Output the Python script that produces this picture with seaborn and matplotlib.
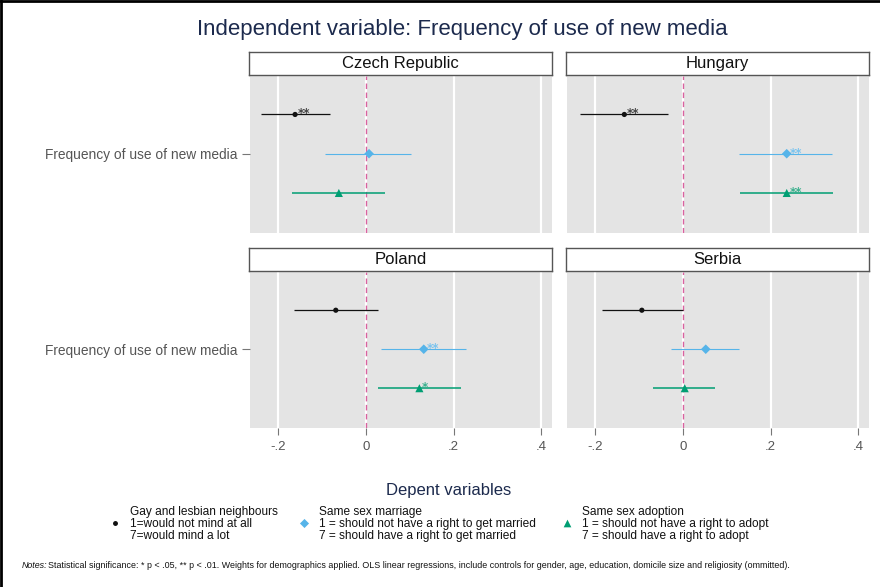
import numpy as np
import pandas as pd
import matplotlib
matplotlib.use("Agg")
import matplotlib.pyplot as plt
import seaborn as sns

sns.set_theme(style="white")
plt.rcParams["font.family"] = ["Liberation Sans", "DejaVu Sans"]

# ---- data -------------------------------------------------------------
countries = ["Czech Republic", "Hungary", "Poland", "Serbia"]
outcomes = ["Gay and lesbian neighbours", "Same sex marriage", "Same sex adoption"]

coef_czech = [-0.162, 0.007, -0.062]
lo_czech = [-0.240, -0.093, -0.168]
hi_czech = [-0.082, 0.103, 0.044]
sig_czech = ["**", "", ""]

coef_hungary = [-0.134, 0.237, 0.237]
lo_hungary = [-0.235, 0.129, 0.131]
hi_hungary = [-0.034, 0.340, 0.342]
sig_hungary = ["**", "**", "**"]

coef_poland = [-0.069, 0.132, 0.122]
lo_poland = [-0.164, 0.034, 0.027]
hi_poland = [0.028, 0.229, 0.217]
sig_poland = ["", "**", "*"]

coef_serbia = [-0.094, 0.052, 0.004]
lo_serbia = [-0.186, -0.027, -0.068]
hi_serbia = [0.000, 0.128, 0.074]
sig_serbia = ["", "", ""]

xticks = [-0.2, 0.0, 0.2, 0.4]
xticklabels = ["-.2", "0", ".2", ".4"]
ylabel = "Frequency of use of new media"

rows = []
for country, c, lo, hi, sg in zip(
    countries,
    [coef_czech, coef_hungary, coef_poland, coef_serbia],
    [lo_czech, lo_hungary, lo_poland, lo_serbia],
    [hi_czech, hi_hungary, hi_poland, hi_serbia],
    [sig_czech, sig_hungary, sig_poland, sig_serbia],
):
    for k, name in enumerate(outcomes):
        rows.append(dict(country=country, outcome=name, offset=k - 1,
                         coef=c[k], lo=lo[k], hi=hi[k], sig=sg[k]))
df = pd.DataFrame(rows)

palette = {outcomes[0]: "#111111", outcomes[1]: "#56b4e9", outcomes[2]: "#009e73"}
markers = {outcomes[0]: "o", outcomes[1]: "D", outcomes[2]: "^"}
sizes = {outcomes[0]: 14, outcomes[1]: 24, outcomes[2]: 34}
ci_lw = {outcomes[0]: 0.9, outcomes[1]: 0.8, outcomes[2]: 1.1}
star_col = {outcomes[0]: "#444444", outcomes[1]: "#7cc4ee", outcomes[2]: "#3cb08e"}

# ---- figure -----------------------------------------------------------
W, H = 880, 587
fig = plt.figure(figsize=(W / 100, H / 100), dpi=100)
fig.patch.set_facecolor("white")


def rect(x0, y0, x1, y1):
    return [x0 / W, 1 - y1 / H, (x1 - x0) / W, (y1 - y0) / H]


panels = {
    "Czech Republic": (250, 76, 552, 233),
    "Hungary": (567, 76, 869, 233),
    "Poland": (250, 272, 552, 428),
    "Serbia": (567, 272, 869, 428),
}
grey_bg = "#e4e4e4"

for i, country in enumerate(countries):
    x0, y0, x1, y1 = panels[country]
    ax = fig.add_axes(rect(x0, y0, x1, y1))
    ax.set_facecolor(grey_bg)
    for s in ax.spines.values():
        s.set_visible(False)
    sub = df[df.country == country]

    for tx in xticks:
        ax.axvline(tx, color="white", lw=1.6, zorder=0)
    ax.axvline(0, color="#d9629f", lw=1.0, ls=(0, (4, 2.5)), zorder=1)

    for _, r in sub.iterrows():
        ax.hlines(r.offset, r.lo, r.hi, color=palette[r.outcome],
                  lw=ci_lw[r.outcome], zorder=2)
    sns.scatterplot(data=sub, x="coef", y="offset", hue="outcome", style="outcome",
                    palette=palette, markers=markers, size="outcome", sizes=sizes,
                    linewidth=0, legend=False, ax=ax, zorder=3)
    for _, r in sub.iterrows():
        if r.sig:
            ax.annotate(r.sig, (r.coef, r.offset), xytext=(2.0, 0.5),
                        textcoords="offset points", fontsize=8.5,
                        family="DejaVu Sans", fontweight="bold",
                        color=star_col[r.outcome], ha="left", va="center",
                        zorder=4)

    ax.set_xlim(-0.265, 0.425)
    ax.set_ylim(2.02, -1.98)
    ax.set_xlabel("")
    ax.set_ylabel("")
    ax.set_xticks(xticks)
    ax.set_yticks([0])
    bottom = i >= 2
    left = i % 2 == 0
    ax.tick_params(axis="x", bottom=bottom, labelbottom=bottom, length=5,
                   width=0.8, color="#777777", labelcolor="#555555",
                   labelsize=9.5, pad=4, direction="out")
    ax.set_xticklabels(xticklabels)
    ax.tick_params(axis="y", left=left, labelleft=left, length=6, width=0.8,
                   color="#777777", labelcolor="#555555", labelsize=9.9,
                   pad=3, direction="out")
    ax.set_yticklabels([ylabel])

    # facet strip
    sx = fig.add_axes(rect(x0 - 1, y0 - 24, x1, y0 - 1))
    sx.set_xticks([])
    sx.set_yticks([])
    sx.set_facecolor("white")
    for s in sx.spines.values():
        s.set_color("#555555")
        s.set_linewidth(1.0)
    sx.text(0.5, 0.5, country, ha="center", va="center", fontsize=12,
            color="#111111", transform=sx.transAxes)

# ---- title ------------------------------------------------------------
fig.text(462 / W, 1 - 29 / H, "Independent variable: Frequency of use of new media",
         ha="center", va="center", fontsize=16, color="#1c2a4d")

# ---- legend -----------------------------------------------------------
lg = fig.add_axes([0, 0, 1, 1])
lg.set_xlim(0, W)
lg.set_ylim(H, 0)
lg.axis("off")
lg.patch.set_alpha(0)
lg.text(449, 491, "Depent variables", ha="center", va="center",
        fontsize=12, color="#1c2a4d")
legend_text = [
    "Gay and lesbian neighbours\n1=would not mind at all\n7=would mind a lot",
    "Same sex marriage\n1 = should not have a right to get married\n7 = should have a right to get married",
    "Same sex adoption\n1 = should not have a right to adopt\n7 = should have a right to adopt",
]
legend_x = [115, 304, 567]
for name, txt, lx in zip(outcomes, legend_text, legend_x):
    lg.scatter([lx], [523], marker=markers[name], s=sizes[name] * 0.9,
               color=palette[name], linewidths=0)
    lg.text(lx + 15, 524, txt, ha="left", va="center", fontsize=8.6,
            color="#111111", linespacing=1.05)

lg.text(22, 566, "Notes:", ha="left", va="center", fontsize=6.4,
        style="italic", color="#111111")
lg.text(48, 566,
        "Statistical significance: * p < .05, ** p < .01. Weights for demographics "
        "applied. OLS linear regressions, include controls for gender, age, education, "
        "domicile size and religiosity (ommitted).",
        ha="left", va="center", fontsize=6.4, color="#111111")

# frame edges along the left and top of the canvas
lg.plot([1.0, 1.0], [0, H], color="black", lw=2, clip_on=False)
lg.plot([0, W], [1.0, 1.0], color="black", lw=2, clip_on=False)

fig.savefig("out.png", dpi=100, facecolor="white")
